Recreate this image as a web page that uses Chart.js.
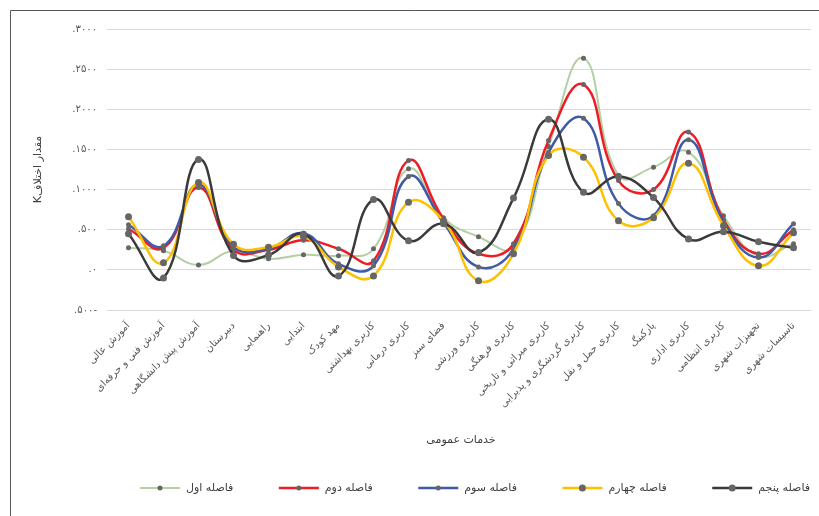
<!DOCTYPE html>
<html>
<head>
<meta charset="utf-8">
<script src="https://cdn.jsdelivr.net/npm/chart.js@4/dist/chart.umd.min.js"></script>
<style>
html,body{margin:0;padding:0;background:#fff;}
#wrap{width:819px;height:516px;position:relative;}
</style>
</head>
<body>
<div id="wrap"><canvas id="c" width="819" height="516"></canvas></div>
<script>
// ---- data ----
const categories = [
  'آموزش عالی',
  'آموزش فنی و حرفه\u200cای',
  'آموزش پیش دانشگاهی',
  'دبیرستان',
  'راهنمایی',
  'ابتدایی',
  'مهد کودک',
  'کاربری بهداشتی',
  'کاربری درمانی',
  'فضای سبز',
  'کاربری ورزشی',
  'کاربری فرهنگی',
  'کاربری میراثی و تاریخی',
  'کاربری گردشگری و پذیرایی',
  'کاربری حمل و نقل',
  'پارکینگ',
  'کاربری اداری',
  'کاربری انتظامی',
  'تجهیزات شهری',
  'تاسیسات شهری'
];
const seriesNames = ['فاصله اول', 'فاصله دوم', 'فاصله سوم', 'فاصله چهارم', 'فاصله پنجم'];
const fasele1 = [275, 237, 62, 237, 137, 187, 175, 262, 1258, 650, 412, 287, 1537, 2637, 1175, 1279, 1466, 675, 175, 325];
const fasele2 = [512, 275, 1025, 250, 250, 370, 262, 112, 1362, 637, 200, 325, 1612, 2308, 1112, 1000, 1716, 625, 200, 500];
const fasele3 = [562, 300, 1062, 290, 262, 455, 75, 50, 1162, 587, 37, 262, 1462, 1887, 825, 675, 1621, 600, 154, 575];
const fasele4 = [662, 87, 1087, 320, 281, 412, 37, -75, 841, 612, -137, 200, 1425, 1404, 612, 650, 1329, 550, 50, 462];
const fasele5 = [450, -100, 1375, 180, 185, 445, -75, 875, 362, 575, 216, 894, 1875, 966, 1162, 900, 384, 475, 350, 275];
const yTickValues = [-500, 0, 500, 1000, 1500, 2000, 2500, 3000];
const yTickLabels = ['.۵۰۰-', '.۰', '.۵۰۰', '.۱۰۰۰', '.۱۵۰۰', '.۲۰۰۰', '.۲۵۰۰', '.۳۰۰۰'];
const yAxisTitle = 'مقدار اختلافK';
const xAxisTitle = 'خدمات عمومی';

// ---- styles ----
const seriesData = [fasele1, fasele2, fasele3, fasele4, fasele5];
const lineColors = ['#b3cfa3', '#ee1c25', '#3f5aa6', '#ffc000', '#3a3a3a'];
const lineWidths = [2, 2.5, 2.5, 2.5, 2.5];
const markerRadii = [2.5, 2.5, 2.5, 3.5, 3.5];
const markerColor = '#666666';
const FONT = "'DejaVu Sans', sans-serif";

// legend drawn from the chart's own datasets
const legendPlugin = {
  id: 'customLegend',
  afterDraw(chart) {
    const ctx = chart.ctx;
    const ds = chart.data.datasets;
    const sampleW = 40, gapText = 6, startX = 140, endX = 810, cy = 488;
    ctx.save();
    ctx.font = '11px ' + FONT;
    const widths = ds.map(d => sampleW + gapText + ctx.measureText(d.label).width);
    const total = widths.reduce((a, b) => a + b, 0);
    const gap = (endX - startX - total) / (ds.length - 1);
    let x = startX;
    ds.forEach((d, i) => {
      ctx.strokeStyle = d.borderColor;
      ctx.lineWidth = d.borderWidth;
      ctx.beginPath(); ctx.moveTo(x, cy); ctx.lineTo(x + sampleW, cy); ctx.stroke();
      ctx.fillStyle = markerColor;
      ctx.beginPath(); ctx.arc(x + sampleW / 2, cy, d.pointRadius, 0, Math.PI * 2); ctx.fill();
      ctx.fillStyle = '#404040';
      ctx.textBaseline = 'middle';
      ctx.textAlign = 'left';
      ctx.fillText(d.label, x + sampleW + gapText, cy);
      x += widths[i] + gap;
    });
    ctx.restore();
  }
};

const framePlugin = {
  id: 'frame',
  afterDraw(chart) {
    const ctx = chart.ctx;
    ctx.save();
    ctx.strokeStyle = '#555555';
    ctx.lineWidth = 1;
    ctx.beginPath();
    ctx.moveTo(10.5, 516); ctx.lineTo(10.5, 10.5); ctx.lineTo(819, 10.5);
    ctx.stroke();
    ctx.restore();
  }
};

Chart.defaults.font.family = FONT;

new Chart(document.getElementById('c'), {
  type: 'line',
  data: {
    labels: categories,
    datasets: seriesData.map((d, i) => ({
      label: seriesNames[i],
      data: d,
      borderColor: lineColors[i],
      backgroundColor: lineColors[i],
      borderWidth: lineWidths[i],
      pointRadius: markerRadii[i],
      pointBackgroundColor: markerColor,
      pointBorderColor: markerColor,
      pointBorderWidth: 0,
      tension: 0.45,
      fill: false,
      order: 5 - i
    }))
  },
  options: {
    responsive: false,
    animation: false,
    devicePixelRatio: 1,
    layout: { padding: { left: 20, right: 8, top: 29, bottom: 63 } },
    plugins: {
      tooltip: { enabled: false },
      legend: { display: false }
    },
    scales: {
      x: {
        offset: true,
        grid: { display: false },
        border: { display: false },
        ticks: { autoSkip: false, minRotation: 45, maxRotation: 45, color: '#595959', font: { size: 10 }, padding: 2 },
        title: { display: true, text: xAxisTitle, color: '#404040', font: { size: 11 }, padding: { top: 0, bottom: 6 } },
        afterFit: (s) => { s.height = 143; }
      },
      y: {
        min: -500,
        max: 3000,
        grid: { color: '#d9d9d9', tickLength: 4 },
        border: { display: false },
        ticks: {
          stepSize: 500,
          color: '#595959',
          font: { size: 10 },
          padding: 10,
          callback: (v) => { const k = yTickValues.indexOf(v); return k >= 0 ? yTickLabels[k] : ''; }
        },
        title: { display: true, text: '\u202B' + yAxisTitle + '\u202C', color: '#404040', font: { size: 11 }, padding: { top: 12, bottom: 0 } },
        afterFit: (s) => { s.width = 91; }
      }
    }
  },
  plugins: [framePlugin, legendPlugin]
});
</script>
</body>
</html>
